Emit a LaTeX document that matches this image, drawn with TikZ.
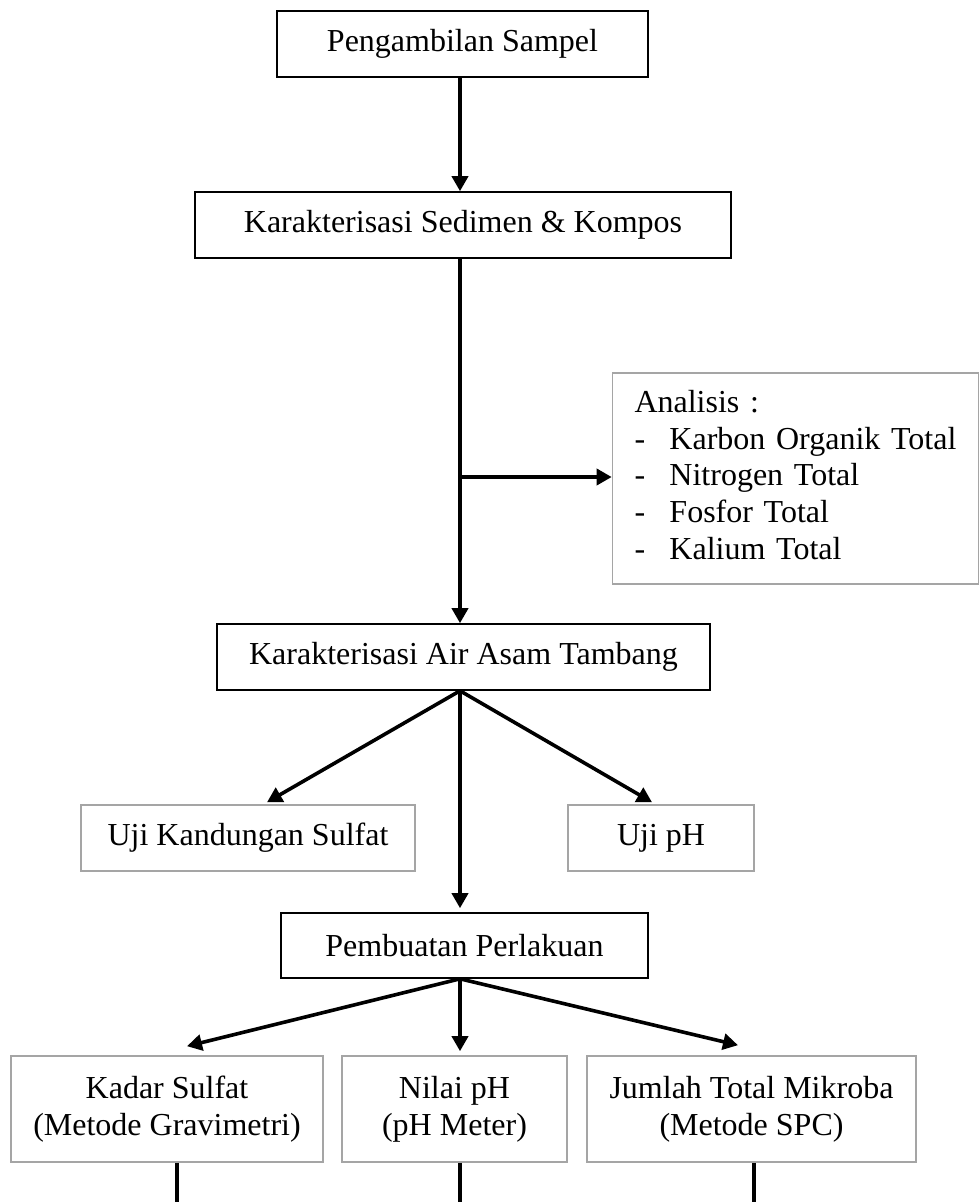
\documentclass[tikz,border=0pt]{standalone}
\usepackage{fontspec}
\setmainfont{Liberation Serif}
\usetikzlibrary{arrows.meta,calc}
\definecolor{boxgray}{RGB}{165,165,165}
\begin{document}
\begin{tikzpicture}[x=1pt,y=-1pt,
  every node/.style={font=\fontsize{32}{36.7}\selectfont, inner sep=0pt, align=center},
  blackbox/.style={draw=black, line width=1.6pt, minimum height=66pt},
  graybox/.style={draw=boxgray, line width=1.6pt, minimum height=66pt},
  conn/.style={line width=3.6pt, -{Triangle[length=15pt,width=16pt]}},
  plainline/.style={line width=3.6pt}]
\useasboundingbox (0,0) rectangle (979,1202);
\coordinate (spine) at (460,0);

\node[blackbox, minimum width=371pt] (b1) at (462.5,44) {Pengambilan Sampel};
\node[blackbox, minimum width=536pt] (b2) at (463,225) {Karakterisasi Sedimen \& Kompos};
\node[graybox, minimum width=366pt, minimum height=211pt, text width=322pt, inner xsep=22pt, align=left] (ana) at (795.5,478.5)
  {\begin{tabular}{@{}l@{}l@{}}
   \multicolumn{2}{@{}l@{}}{Analisis :}\\
   \makebox[35pt][l]{-} & Karbon Organik Total\\
   \makebox[35pt][l]{-} & Nitrogen Total\\
   \makebox[35pt][l]{-} & Fosfor Total\\
   \makebox[35pt][l]{-} & Kalium Total
   \end{tabular}};
\node[blackbox, minimum width=493pt] (b3) at (463.5,657) {Karakterisasi Air Asam Tambang};
\node[graybox, minimum width=334pt] (uks) at (248,838) {Uji Kandungan Sulfat};
\node[graybox, minimum width=186pt] (uph) at (661,838) {Uji pH};
\node[blackbox, minimum width=367pt, minimum height=65pt] (b4) at (464.5,945.5) {Pembuatan Perlakuan};
\node[graybox, minimum width=312pt, minimum height=106pt] (bA) at (167,1109) {Kadar Sulfat\\(Metode Gravimetri)};
\node[graybox, minimum width=225pt, minimum height=106pt] (bB) at (454.5,1109) {Nilai pH\\(pH Meter)};
\node[graybox, minimum width=329pt, minimum height=106pt] (bC) at (751.5,1109) {Jumlah Total Mikroba\\(Metode SPC)};

\coordinate (eA) at (177,1202);
\coordinate (eB) at (460,1202);
\coordinate (eC) at (754,1202);

\draw[conn] (b1.south -| spine) -- (b2.north -| spine);
\draw[conn] (b2.south -| spine) -- (b3.north -| spine);
\draw[conn] ($(spine |- ana.west)+(0,-1.5)$) -- ($(ana.west)+(0,-1.5)$);
\draw[conn] (b3.south -| spine) -- ($(uks.north)+(19,-2)$);
\draw[conn] (b3.south -| spine) -- ($(uph.north)+(-9,-2)$);
\draw[conn] (b3.south -| spine) -- ($(b4.north -| spine)+(0,-4)$);
\draw[conn] (b4.south -| spine) -- ($(bA.north)+(20,-9)$);
\draw[conn] (b4.south -| spine) -- ($(bB.north -| spine)+(0,-4)$);
\draw[conn] (b4.south -| spine) -- ($(bC.north)+(-13.5,-10)$);
\draw[plainline] (bA.south -| eA) -- (eA);
\draw[plainline] (bB.south -| eB) -- (eB);
\draw[plainline] (bC.south -| eC) -- (eC);
\end{tikzpicture}
\end{document}
